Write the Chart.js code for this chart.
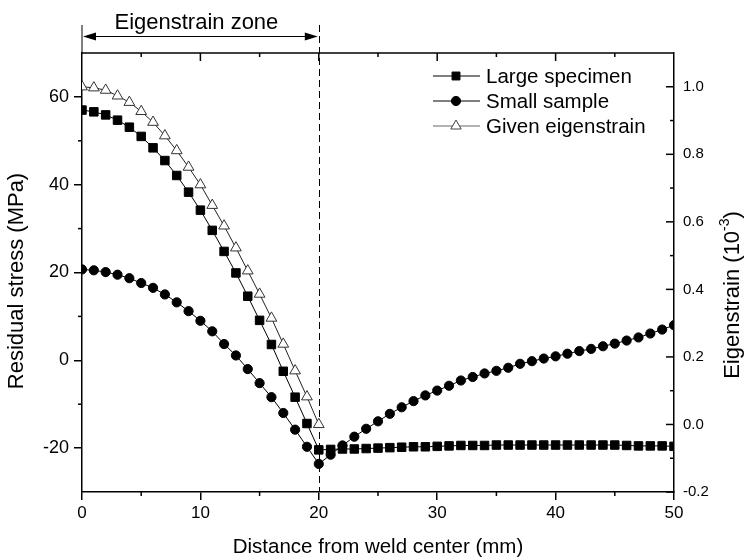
<!DOCTYPE html>
<html><head><meta charset="utf-8">
<script src="https://cdn.jsdelivr.net/npm/chart.js@4/dist/chart.umd.min.js"></script>
<style>html,body{margin:0;padding:0;background:#fff}#wrap{width:747px;height:558px}</style>
</head><body><div id="wrap"><canvas id="c" width="747" height="558"></canvas></div>
<script>
// ---- data ----
const distance = [0,1,2,3,4,5,6,7,8,9,10,11,12,13,14,15,16,17,18,19,20,21,22,23,24,25,26,27,28,29,30,31,32,33,34,35,36,37,38,39,40,41,42,43,44,45,46,47,48,49,50];
const eigenDistance = [0,1,2,3,4,5,6,7,8,9,10,11,12,13,14,15,16,17,18,19,20];
const largeSpecimen = [57.0,56.6,55.9,54.7,53.1,51.0,48.4,45.5,42.1,38.3,34.2,29.6,24.8,19.9,14.6,9.1,3.6,-2.5,-8.4,-14.4,-20.4,
  -20.3,-20.2,-20.2,-20.1,-20.0,-19.9,-19.8,-19.7,-19.7,-19.6,-19.5,-19.4,-19.4,-19.4,-19.3,-19.3,-19.3,-19.3,-19.3,-19.3,-19.3,-19.3,-19.3,-19.3,-19.3,-19.4,-19.5,-19.5,-19.5,-19.6];
const smallSample = [20.7,20.5,20.1,19.5,18.7,17.6,16.5,15.0,13.2,11.2,9.0,6.6,3.7,1.1,-2.0,-5.2,-8.4,-12.0,-15.8,-19.7,-23.6,
  -21.5,-19.4,-17.4,-15.6,-13.9,-12.2,-10.7,-9.3,-8.0,-6.9,-5.8,-4.6,-3.8,-3.0,-2.4,-1.7,-0.8,-0.2,0.4,0.9,1.5,2.1,2.6,3.2,3.8,4.5,5.2,6.1,7.0,8.0];
const givenEigenstrain = [1.0,0.997,0.99,0.973,0.954,0.927,0.895,0.855,0.811,0.762,0.71,0.649,0.588,0.523,0.455,0.386,0.315,0.238,0.159,0.082,0.0];
const distanceTicks = [0,10,20,30,40,50];
const stressTicks = [-20,0,20,40,60];
const strainTicks = [-0.2,0,0.2,0.4,0.6,0.8,1.0];
const seriesNames = ['Large specimen','Small sample','Given eigenstrain'];
const zoneLabel = 'Eigenstrain zone';
const zoneEnd = 20;
const leftTitle = 'Residual stress (MPa)';

const FONT = '"Liberation Sans", Arial, Helvetica, sans-serif';

function ln(ctx,x1,y1,x2,y2){ctx.beginPath();ctx.moveTo(x1,y1);ctx.lineTo(x2,y2);ctx.stroke();}

function marker(ctx, style, x, y, r, fill, stroke){
  ctx.save();
  ctx.fillStyle = fill; ctx.strokeStyle = stroke; ctx.lineWidth = 1;
  ctx.beginPath();
  if (style === 'rect'){ const s = r*Math.SQRT1_2; ctx.rect(x-s,y-s,2*s,2*s); }
  else if (style === 'circle'){ ctx.arc(x,y,r,0,Math.PI*2); }
  else { ctx.moveTo(x, y-r); ctx.lineTo(x + r*Math.sin(2*Math.PI/3), y - r*Math.cos(2*Math.PI/3)); ctx.lineTo(x + r*Math.sin(4*Math.PI/3), y - r*Math.cos(4*Math.PI/3)); ctx.closePath(); }
  ctx.fill(); ctx.stroke();
  ctx.restore();
}

const decor = {
  id: 'decor',
  beforeDatasetsDraw(chart){
    const {ctx, chartArea:a, scales:{x}} = chart;
    ctx.save();
    ctx.strokeStyle = '#000'; ctx.lineWidth = 1;
    ctx.setLineDash([7,4]);
    const xp = Math.round(x.getPixelForValue(zoneEnd)) + 0.5;
    ln(ctx, xp, 25, xp, a.bottom);
    ctx.restore();
  },
  afterDraw(chart){
    const {ctx, chartArea:a, scales:{x,y,y1}} = chart;
    ctx.save();
    ctx.strokeStyle = '#000'; ctx.lineWidth = 1.5;
    // top border
    ln(ctx, a.left, a.top, a.right, a.top);
    // top ticks (inward)
    for (let v = 5; v < 50; v += 5){
      const px = x.getPixelForValue(v);
      ln(ctx, px, a.top, px, a.top + (v % 10 === 0 ? 8 : 4));
    }
    // bottom minor ticks (outward)
    for (let v = 5; v < 50; v += 10){
      const px = x.getPixelForValue(v);
      ln(ctx, px, a.bottom, px, a.bottom + 4);
    }
    // left minor ticks (outward)
    for (let v = -10; v < 70; v += 20){
      const py = y.getPixelForValue(v);
      ln(ctx, a.left, py, a.left - 4, py);
    }
    // right ticks (inward)
    strainTicks.forEach(v => { const py = y1.getPixelForValue(v); ln(ctx, a.right, py, a.right - 8, py); });
    for (let v = -0.1; v < 1.05; v += 0.2){
      const py = y1.getPixelForValue(v);
      ln(ctx, a.right, py, a.right - 4, py);
    }
    // eigenstrain zone annotation
    const x0 = x.getPixelForValue(0), x20 = x.getPixelForValue(zoneEnd);
    ctx.lineWidth = 1;
    ln(ctx, x0, 25, x0, a.top);
    const ay = 36.5;
    ln(ctx, x0 + 4, ay, x20 - 4, ay);
    ctx.fillStyle = '#000';
    ctx.beginPath(); ctx.moveTo(x0 + 1, ay); ctx.lineTo(x0 + 14, ay - 4); ctx.lineTo(x0 + 14, ay + 4); ctx.closePath(); ctx.fill();
    ctx.beginPath(); ctx.moveTo(x20 - 1, ay); ctx.lineTo(x20 - 14, ay - 4); ctx.lineTo(x20 - 14, ay + 4); ctx.closePath(); ctx.fill();
    ctx.font = '22px ' + FONT; ctx.textAlign = 'center'; ctx.textBaseline = 'alphabetic';
    ctx.fillText(zoneLabel, (x0 + x20) / 2 - 4, 29);

    // legend
    const rows = [
      {style:'rect', r:5.6, fill:'#000', stroke:'#000', line:'#000', y:76},
      {style:'circle', r:4.6, fill:'#000', stroke:'#000', line:'#000', y:101},
      {style:'triangle', r:6, fill:'#fff', stroke:'#444', line:'#666', y:126}
    ];
    ctx.font = '20.5px ' + FONT; ctx.textAlign = 'left'; ctx.textBaseline = 'middle';
    rows.forEach((r, i) => {
      ctx.strokeStyle = r.line; ctx.lineWidth = 1;
      ln(ctx, 433, r.y, 480, r.y);
      marker(ctx, r.style, 456, r.y, r.r, r.fill, r.stroke);
      ctx.fillStyle = '#000';
      ctx.fillText(seriesNames[i], 486, r.y + 1);
    });

    // left axis title
    ctx.save();
    ctx.translate(17, 281);
    ctx.rotate(-Math.PI / 2);
    ctx.fillStyle = '#000'; ctx.textAlign = 'center'; ctx.textBaseline = 'middle';
    ctx.font = '22px ' + FONT;
    ctx.fillText(leftTitle, 0, 0);
    ctx.restore();

    // right axis title with superscript
    ctx.save();
    ctx.translate(733, 295);
    ctx.rotate(-Math.PI / 2);
    ctx.fillStyle = '#000';
    ctx.textBaseline = 'middle'; ctx.textAlign = 'left';
    const mainFont = '22px ' + FONT, supFont = '14px ' + FONT;
    ctx.font = mainFont; const w1 = ctx.measureText('Eigenstrain (10').width; const w3 = ctx.measureText(')').width;
    ctx.font = supFont; const w2 = ctx.measureText('-3').width;
    let sx = -(w1 + w2 + w3) / 2;
    ctx.font = mainFont; ctx.fillText('Eigenstrain (10', sx, 0); sx += w1;
    ctx.font = supFont; ctx.fillText('-3', sx, -8); sx += w2;
    ctx.font = mainFont; ctx.fillText(')', sx, 0);
    ctx.restore();
    ctx.restore();
  }
};

const tickFont = (s) => ({family: FONT, size: s});

new Chart(document.getElementById('c'), {
  type: 'line',
  data: {
    datasets: [
      { label: seriesNames[0], data: distance.map((d,i) => ({x:d, y:largeSpecimen[i]})), yAxisID:'y',
        borderColor:'#000', borderWidth:1, pointStyle:'rect', pointRadius:6, pointBackgroundColor:'#000', pointBorderColor:'#000', pointBorderWidth:1, clip:0 },
      { label: seriesNames[1], data: distance.map((d,i) => ({x:d, y:smallSample[i]})), yAxisID:'y',
        borderColor:'#000', borderWidth:1, pointStyle:'circle', pointRadius:4.6, pointBackgroundColor:'#000', pointBorderColor:'#000', pointBorderWidth:1, clip:0 },
      { label: seriesNames[2], data: eigenDistance.map((d,i) => ({x:d, y:givenEigenstrain[i]})), yAxisID:'y1',
        borderColor:'#222', borderWidth:1, pointStyle:'triangle', pointRadius:6.2, pointBackgroundColor:'#fff', pointBorderColor:'#333', pointBorderWidth:1, clip:0 }
    ]
  },
  options: {
    responsive: false, animation: false, devicePixelRatio: 1,
    layout: { padding: { top: 53, left: 0, right: 0, bottom: 0 } },
    plugins: { legend: { display: false }, tooltip: { enabled: false } },
    scales: {
      x: { type:'linear', position:'bottom', min:0, max:50,
        afterBuildTicks: s => { s.ticks = distanceTicks.map(v => ({value:v})); },
        afterFit: s => { s.height = 66; },
        grid: { drawOnChartArea:false, drawTicks:true, tickLength:8, color:'#000', lineWidth:1.5 },
        border: { display:true, color:'#000', width:1.5 },
        ticks: { font: tickFont(17), color:'#000', padding:3, maxRotation:0 },
        title: { display:true, text:'Distance from weld center (mm)', font:{family:FONT, size:20.5, lineHeight:1.0}, color:'#000', padding:0 } },
      y: { type:'linear', position:'left', min:-30, max:70,
        afterBuildTicks: s => { s.ticks = stressTicks.map(v => ({value:v})); },
        afterFit: s => { s.width = 82; },
        grid: { drawOnChartArea:false, drawTicks:true, tickLength:8, color:'#000', lineWidth:1.5 },
        border: { display:true, color:'#000', width:1.5 },
        ticks: { font: tickFont(18), color:'#000', padding:5 } },
      y1: { type:'linear', position:'right', min:-0.2, max:1.1,
        afterBuildTicks: s => { s.ticks = strainTicks.map(v => ({value:v})); },
        afterFit: s => { s.width = 73; },
        grid: { drawOnChartArea:false, drawTicks:false },
        border: { display:true, color:'#000', width:1.5 },
        ticks: { font: tickFont(15), color:'#000', padding:9, callback: v => Number(v).toFixed(1) } }
    }
  },
  plugins: [decor]
});
</script>
</body></html>
